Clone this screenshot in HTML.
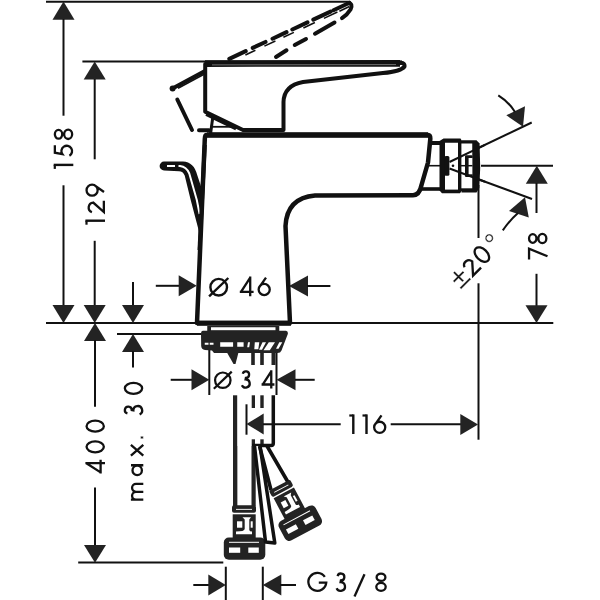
<!DOCTYPE html>
<html><head><meta charset="utf-8"><style>html,body{margin:0;padding:0;background:#fff;}svg{display:block;}</style></head>
<body><svg width="600" height="600" viewBox="0 0 600 600">
<rect width="600" height="600" fill="#fff"/>
<line x1="46" y1="1.8" x2="350" y2="1.8" stroke="#111" stroke-width="2"/>
<polygon points="63.5,1.5 52.5,19.7 74.5,19.7" fill="#232323"/>
<line x1="63.5" y1="19" x2="63.5" y2="115.7" stroke="#111" stroke-width="2"/>
<line x1="63.5" y1="185.3" x2="63.5" y2="306" stroke="#111" stroke-width="2"/>
<polygon points="63.5,323 52.5,305 74.5,305" fill="#232323"/>
<line x1="82.4" y1="61.4" x2="402" y2="61.4" stroke="#111" stroke-width="2"/>
<polygon points="94.7,61.5 83.7,79.5 105.7,79.5" fill="#232323"/>
<line x1="94.7" y1="79" x2="94.7" y2="159.3" stroke="#111" stroke-width="2"/>
<line x1="94.7" y1="240.8" x2="94.7" y2="306" stroke="#111" stroke-width="2"/>
<polygon points="94.7,323 83.7,305 105.7,305" fill="#232323"/>
<line x1="46" y1="323" x2="553.3" y2="323" stroke="#111" stroke-width="2"/>
<polygon points="95,323 84,341 106,341" fill="#232323"/>
<line x1="95" y1="340" x2="95" y2="406.7" stroke="#111" stroke-width="2"/>
<line x1="95" y1="487.5" x2="95" y2="546" stroke="#111" stroke-width="2"/>
<polygon points="95,562.8 84,545 106,545" fill="#232323"/>
<line x1="133" y1="282" x2="133" y2="306" stroke="#111" stroke-width="2"/>
<polygon points="133,323 122,305 144,305" fill="#232323"/>
<line x1="117" y1="334" x2="201" y2="334" stroke="#111" stroke-width="2"/>
<polygon points="133,334 122,352 144,352" fill="#232323"/>
<line x1="133" y1="351" x2="133" y2="367.5" stroke="#111" stroke-width="2"/>
<line x1="78.2" y1="562.5" x2="223.3" y2="562.5" stroke="#111" stroke-width="2"/>
<line x1="193.3" y1="585" x2="209" y2="585" stroke="#111" stroke-width="2"/>
<polygon points="225.8,585 208.3,574.5 208.3,595.5" fill="#232323"/>
<line x1="225.8" y1="566.7" x2="225.8" y2="600" stroke="#111" stroke-width="2"/>
<line x1="262.8" y1="566.7" x2="262.8" y2="600" stroke="#111" stroke-width="2"/>
<polygon points="262.8,585 281.3,574.5 281.3,595.5" fill="#232323"/>
<line x1="280" y1="585" x2="296" y2="585" stroke="#111" stroke-width="2"/>
<line x1="155.8" y1="285.8" x2="179.5" y2="285.8" stroke="#111" stroke-width="2"/>
<polygon points="196.7,285.8 178.7,275.3 178.7,296.3" fill="#232323"/>
<polygon points="289,286 308,275.5 308,296.5" fill="#232323"/>
<line x1="307" y1="286" x2="330.4" y2="286" stroke="#111" stroke-width="2"/>
<line x1="170.7" y1="379.8" x2="192" y2="379.8" stroke="#111" stroke-width="2"/>
<polygon points="209.3,379.8 191.5,369.3 191.5,390.3" fill="#232323"/>
<line x1="209.3" y1="345" x2="209.3" y2="395" stroke="#111" stroke-width="2"/>
<line x1="276.5" y1="348" x2="276.5" y2="395" stroke="#111" stroke-width="2"/>
<polygon points="276.5,379.8 295.5,369.3 295.5,390.3" fill="#232323"/>
<line x1="295" y1="379.8" x2="314.7" y2="379.8" stroke="#111" stroke-width="2"/>
<line x1="246.5" y1="404.3" x2="246.5" y2="434.7" stroke="#111" stroke-width="2"/>
<polygon points="246.5,424 263.7,413.5 263.7,434.5" fill="#232323"/>
<line x1="263" y1="424.2" x2="340.7" y2="424.2" stroke="#111" stroke-width="2"/>
<line x1="390.7" y1="424.2" x2="461" y2="424.2" stroke="#111" stroke-width="2"/>
<polygon points="478,424.5 460.3,414.0 460.3,435.0" fill="#232323"/>
<line x1="478.5" y1="185" x2="478.5" y2="238" stroke="#111" stroke-width="2"/>
<line x1="478.5" y1="283.3" x2="478.5" y2="439.7" stroke="#111" stroke-width="2"/>
<line x1="481" y1="165.8" x2="553" y2="165.8" stroke="#111" stroke-width="2"/>
<polygon points="536.8,165.8 525.8,183.8 547.8,183.8" fill="#232323"/>
<line x1="536.5" y1="183" x2="536.5" y2="213" stroke="#111" stroke-width="2"/>
<line x1="536.5" y1="273.8" x2="536.5" y2="306" stroke="#111" stroke-width="2"/>
<polygon points="536.5,323 525.5,305.2 547.5,305.2" fill="#232323"/>
<line x1="449" y1="162" x2="531.7" y2="122.5" stroke="#111" stroke-width="2"/>
<line x1="449" y1="168.5" x2="532" y2="199" stroke="#111" stroke-width="2"/>
<polygon points="523,126.7 506.3,115.3 525,106.3" fill="#232323"/>
<path d="M498.3,95.3 Q509,102 515,112" fill="none" stroke="#111" stroke-width="2"/>
<polygon points="525,197.3 509,211 528.8,217.4" fill="#232323"/>
<path d="M502.8,230.4 Q510,220 518,213" fill="none" stroke="#111" stroke-width="2"/>
<path d="M172.5,88.5 L204,71.5" fill="none" stroke="#111" stroke-width="4" stroke-linecap="round"/>
<path d="M178,88.2 L204,74.2" fill="none" stroke="#111" stroke-width="1.6"/>
<circle cx="172.6" cy="88.6" r="3" fill="#111"/>
<path d="M229.3,58.83L245.7,51.18M252.7,47.92L265.5,41.95M272.5,38.69L286.5,32.17M292.3,29.46L307.5,22.38M313.3,19.67L330.5,11.66M333.5,10.26L349.5,2.80" fill="none" stroke="#111" stroke-width="4" stroke-linecap="round"/>
<path d="M245.4,54.98L255.4,50.31M264.4,46.12L275.4,40.99M283.4,37.26L293.9,32.37M303.4,27.94L314.9,22.58M323.9,18.39L337.4,12.09M339.4,11.16L349.4,6.50" fill="none" stroke="#111" stroke-width="1.6"/>
<path d="M348,3 Q353.5,3.5 350.5,9.5 Q347.5,14.5 342,18.2" fill="none" stroke="#111" stroke-width="4" stroke-linecap="round"/>
<path d="M334.5,22.5 L315,33.75 M306,39 L294.75,45 M286.5,50.25 L276,57" fill="none" stroke="#111" stroke-width="4" stroke-linecap="round"/>
<path d="M177.3,99.5 L192,130 M199,130.3 L209,130.3" fill="none" stroke="#111" stroke-width="4" stroke-linecap="round"/>
<path d="M205.2,64 L401,62.8 Q405,63 404.5,66.5 Q401,71.5 383,73 L303,82 Q284,85.5 283.5,102 L283.5,130 L243,130 L205.2,111.8 Z" fill="#fff" stroke="#111" stroke-width="4" stroke-linejoin="round"/>
<path d="M205,63.6 L400,63.4" fill="none" stroke="#111" stroke-width="6.6"/>
<path d="M212,64.9 L396,64.6" fill="none" stroke="#999" stroke-width="0.7"/>
<path d="M206,135 L428,135 Q430.5,135.2 430.3,139 L428,162.5 L421.5,185 Q419.5,195.2 413,195.2 L315,195.6 Q287,198 285.5,226 L290,323 L197,323 L204.8,139 Q205,135 206,135 Z" fill="#fff" stroke="#111" stroke-width="4.5" stroke-linejoin="round"/>
<line x1="207" y1="134.9" x2="428" y2="134.9" stroke="#111" stroke-width="5.5"/>
<line x1="197" y1="323.3" x2="291" y2="323.3" stroke="#111" stroke-width="5"/>
<path d="M206,114.5 L236,128.8" fill="none" stroke="#111" stroke-width="3"/>
<path d="M212.8,117 L210.6,133.5" fill="none" stroke="#111" stroke-width="3"/>
<path d="M212.5,126.8 L231,126.8" fill="none" stroke="#111" stroke-width="1.8"/>
<line x1="429" y1="143" x2="441" y2="143" stroke="#111" stroke-width="4"/>
<line x1="421.5" y1="189" x2="441" y2="189" stroke="#111" stroke-width="3.6"/>
<line x1="426" y1="165.7" x2="441" y2="165.7" stroke="#111" stroke-width="1.6"/>
<polygon points="443.5,138.5 460.5,138.5 462,141 462,190.5 460,193.3 442,193.3 439.5,190.5 439.5,141" fill="#111"/>
<rect x="445" y="142.75" width="13" height="46.85" fill="#fff"/>
<rect x="444.3" y="156" width="5.1" height="19.8" rx="1.5" fill="#111"/>
<circle cx="453" cy="165.7" r="1.3" fill="#111"/>
<polygon points="461.5,140.25 476.5,140.25 479.6,143.5 480.2,168 479.3,188 476.5,192.5 461.5,192.5" fill="#111"/>
<rect x="461.4" y="143.5" width="10.85" height="44.8" fill="#fff"/>
<rect x="465" y="155.3" width="7.5" height="21.7" rx="1" fill="#111"/>
<rect x="468.6" y="158" width="3.7" height="16.3" fill="#fff"/>
<line x1="461" y1="165.7" x2="472.5" y2="165.7" stroke="#111" stroke-width="1.5"/>
<line x1="449.5" y1="162" x2="485" y2="144.8" stroke="#111" stroke-width="2"/>
<line x1="449.5" y1="168.5" x2="485" y2="181.7" stroke="#111" stroke-width="2"/>
<path d="M164,161.6 L183,161.4 Q194,161.8 197.3,175.3 L202.5,191 L202,233 L199.4,233 L190.7,200 L184.7,175.5 Q183,171.3 179,171.2 L164,170.4 A4.4,4.4 0 0 1 164,161.6 Z" fill="#111"/>
<path d="M167,166 L175,166 M178.5,166 L180,166 Q186.5,166.7 189.3,173.5 L196.8,200 L199.6,214" fill="none" stroke="#fff" stroke-width="2"/>
<path d="M204.8,145 L199.5,250" fill="none" stroke="#111" stroke-width="4"/>
<rect x="207.25" y="326" width="72" height="5" fill="#232323"/>
<rect x="211" y="327.25" width="64.5" height="3" fill="#fff"/>
<path d="M203,330.8 L286,330.8 Q288.3,331 287.8,334 L281.5,350.5 Q280.5,353 277.5,353 L214,353 L212,350.5 L205,350 Q201.4,349.6 201.2,346 L201,334 Q201,330.8 203,330.8 Z" fill="#232323"/>
<path d="M204.75,342.7h3.75v2.05h-3.75z M209.75,342.7h3.75v2.05h-3.75z M220.2,342.25h12.9v4.55h-12.9z M237.25,342.25h6.35v4.55h-6.35z M248,342.2h2l-0.8,5h-2z M254.8,342.2h4.5l-1,7h-4z M262.5,342.2h3.5l-4,7.5h-3z M268.8,342.2h6.2l-5.2,8h-6.3z M279.3,342.2h3l-3.8,6.5h-2.5z" fill="#fff"/>
<path d="M226.7,352 L238.6,352 L235.5,364 L233.5,364 Z" fill="#232323"/>
<rect x="251.2" y="352" width="3.6000000000000227" height="13" fill="#232323"/>
<rect x="260.2" y="352" width="3.6000000000000227" height="13" fill="#232323"/>
<rect x="271.5" y="352" width="4.0" height="13" fill="#232323"/>
<rect x="233" y="395.3" width="4.2" height="111" fill="#232323"/>
<rect x="251.7" y="395.3" width="3.3" height="12.699999999999989" fill="#232323"/>
<rect x="260.3" y="395.3" width="3.4" height="12.699999999999989" fill="#232323"/>
<rect x="251.7" y="439.3" width="3.3" height="6.699999999999989" fill="#232323"/>
<rect x="260.3" y="439.3" width="3.4" height="6.699999999999989" fill="#232323"/>
<path d="M273.3,395.3 L273.3,443.5 Q273.3,445.4 271,445.4 L252,445.4" fill="none" stroke="#111" stroke-width="3.5"/>
<rect x="233" y="446" width="4.2" height="60" fill="#232323"/><rect x="251.5" y="446" width="4.2" height="60" fill="#232323"/><rect x="232" y="505.3" width="24" height="7.5" rx="2" fill="#232323"/><rect x="236" y="508.9" width="16" height="0.9" fill="#fff"/><rect x="232.7" y="514.3" width="23" height="24" fill="#232323"/><path d="M242.5,517.3 H251 L249.3,519.5 V530 Q249.5,531.5 252,531.5 V534.3 H236 V531.5 Q244.5,531.5 244.7,529 V519.5 Z" fill="#fff"/><rect x="237" y="521.3" width="5.3" height="6.4" fill="#fff"/><rect x="250.7" y="521.3" width="2" height="6.4" fill="#fff"/><rect x="223.8" y="537.6" width="41.5" height="22.2" rx="5" fill="#232323"/><rect x="229" y="541.8" width="30" height="1" fill="#fff"/><rect x="229" y="547.5" width="11.2" height="5.3" fill="#fff"/><rect x="248.3" y="547.5" width="10.5" height="5.3" fill="#fff"/>
<path d="M254.5,446 L265.5,542 L274.8,543 L260,446" fill="#fff" stroke="#111" stroke-width="3.5" stroke-linejoin="round"/>
<path d="M259.5,446 L271,490 M267,446 L288.5,483" fill="none" stroke="#111" stroke-width="3.6"/>
<g transform="translate(300.2,523.2) rotate(-28) scale(1.0) translate(-244.5,-548.7)"><rect x="232" y="505.3" width="24" height="7.5" rx="2" fill="#232323"/><rect x="236" y="508.9" width="16" height="0.9" fill="#fff"/><rect x="232.7" y="514.3" width="23" height="24" fill="#232323"/><path d="M242.5,517.3 H251 L249.3,519.5 V530 Q249.5,531.5 252,531.5 V534.3 H236 V531.5 Q244.5,531.5 244.7,529 V519.5 Z" fill="#fff"/><rect x="237" y="521.3" width="5.3" height="6.4" fill="#fff"/><rect x="250.7" y="521.3" width="2" height="6.4" fill="#fff"/><rect x="223.8" y="537.6" width="41.5" height="22.2" rx="5" fill="#232323"/><rect x="229" y="541.8" width="30" height="1" fill="#fff"/><rect x="229" y="547.5" width="11.2" height="5.3" fill="#fff"/><rect x="248.3" y="547.5" width="10.5" height="5.3" fill="#fff"/></g>
<g fill="#111">
<g transform="translate(0,0) rotate(-90)"><rect x="-166.10" y="53.70" width="2.40" height="19.60"/><rect x="-168.90" y="53.70" width="4.00" height="2.20"/><path transform="translate(-157.70,73.30) scale(1.0000)" d="M12.40,-18.45 L5.0,-18.45 L3.53,-10.93 A5.35,5.35 0 1 1 1.97,-3.88" fill="none" stroke="#111" stroke-width="2.30"/><path transform="translate(-140.20,73.30) scale(1.0000)" d="M10.60,-5.15 A4.7,4.0 0 1 0 1.20,-5.15 A4.7,4.0 0 1 0 10.60,-5.15 Z M10.30,-14.75 A4.4,3.7 0 1 0 1.50,-14.75 A4.4,3.7 0 1 0 10.30,-14.75 Z" fill="none" stroke="#111" stroke-width="2.30"/></g>
<g transform="translate(0,0) rotate(-90)"><rect x="-221.90" y="85.40" width="2.40" height="19.60"/><rect x="-224.70" y="85.40" width="4.00" height="2.20"/><path transform="translate(-213.30,105.00) scale(1.0000)" d="M1.17,-13.07 A4.95,4.95 0 0 1 10.75,-11.81 L1.3,-1.15 L12.6,-1.15" fill="none" stroke="#111" stroke-width="2.30"/><path transform="translate(-196.65,105.00) scale(1.0000)" d="M12.05,-12.900000000000002 A5.55,5.55 0 1 0 0.95,-12.900000000000002 A5.55,5.55 0 1 0 12.05,-12.900000000000002 Z M11.72,-11.00 L4.70,-1.0" fill="none" stroke="#111" stroke-width="2.30"/></g>
<g transform="translate(0,0) rotate(-90)"><path transform="translate(-473.60,105.00) scale(1.0000)" d="M10.40,0 V-19.6 M10.40,-18.6 L1.2,-4.4 M0,-4.4 H13.80" fill="none" stroke="#111" stroke-width="2.30"/><path transform="translate(-453.45,105.00) scale(1.0000)" d="M12.15,-9.8 A5.5,8.65 0 1 0 1.15,-9.8 A5.5,8.65 0 1 0 12.15,-9.8 Z" fill="none" stroke="#111" stroke-width="2.30"/><path transform="translate(-432.85,105.00) scale(1.0000)" d="M12.15,-9.8 A5.5,8.65 0 1 0 1.15,-9.8 A5.5,8.65 0 1 0 12.15,-9.8 Z" fill="none" stroke="#111" stroke-width="2.30"/></g>
<g transform="translate(0,0) rotate(-90)"><path transform="translate(-500.80,143.30) scale(1.0000)" d="M1.15,0 V-12.4 M1.15,-7.3 A3.92,3.92 0 0 1 9.0,-7.3 V0 M9.0,-7.3 A3.92,3.92 0 0 1 16.85,-7.3 V0" fill="none" stroke="#111" stroke-width="2.30"/><path transform="translate(-475.90,143.30) scale(1.0000)" d="M10.20,-6.1 A4.7,4.7 0 1 0 0.80,-6.1 A4.7,4.7 0 1 0 10.20,-6.1 Z M10.65,-12.3 V0" fill="none" stroke="#111" stroke-width="2.30"/><path transform="translate(-456.50,143.30) scale(1.0000)" d="M0.8,0 L11.60,-12.4 M0.8,-12.4 L11.60,0" fill="none" stroke="#111" stroke-width="2.30"/><path transform="translate(-441.04,143.30) scale(0.01245,-0.01245)" d="M187 0V219H382V0Z" stroke="#fff" stroke-width="36.1"/><path transform="translate(-416.00,143.30) scale(1.0000)" d="M2.57,-15.89 A3.45,3.45 0 1 1 5.90,-11.55 L5.60,-9.95 A4.4,4.4 0 1 1 1.61,-3.69" fill="none" stroke="#111" stroke-width="2.30"/><path transform="translate(-394.95,143.30) scale(1.0000)" d="M12.15,-9.8 A5.5,8.65 0 1 0 1.15,-9.8 A5.5,8.65 0 1 0 12.15,-9.8 Z" fill="none" stroke="#111" stroke-width="2.30"/></g>
<g transform="translate(0,0) rotate(-90)"><path transform="translate(-259.70,547.50) scale(1.0000)" d="M0.3,-18.45 L11.00,-18.45 L3.4,0" fill="none" stroke="#111" stroke-width="2.30"/><path transform="translate(-244.40,547.50) scale(1.0000)" d="M10.60,-5.15 A4.7,4.0 0 1 0 1.20,-5.15 A4.7,4.0 0 1 0 10.60,-5.15 Z M10.30,-14.75 A4.4,3.7 0 1 0 1.50,-14.75 A4.4,3.7 0 1 0 10.30,-14.75 Z" fill="none" stroke="#111" stroke-width="2.30"/></g>
<circle cx="218.70" cy="287.20" r="8.30" fill="none" stroke="#111" stroke-width="2.40"/><path d="M209.10,296.40 L228.30,278.00" stroke="#111" stroke-width="2.40"/>
<path transform="translate(239.80,296.20) scale(1.0000)" d="M10.40,0 V-19.6 M10.40,-18.6 L1.2,-4.4 M0,-4.4 H13.80" fill="none" stroke="#111" stroke-width="2.30"/>
<path transform="translate(257.40,296.20) scale(1.0000)" d="M12.35,-6.7 A5.55,5.55 0 1 0 1.25,-6.7 A5.55,5.55 0 1 0 12.35,-6.7 Z M1.58,-8.60 L8.6,-18.6" fill="none" stroke="#111" stroke-width="2.30"/>
<circle cx="222.80" cy="380.22" r="7.73" fill="none" stroke="#111" stroke-width="2.23"/><path d="M213.86,388.79 L231.74,371.66" stroke="#111" stroke-width="2.23"/>
<path transform="translate(240.41,388.60) scale(0.9310)" d="M2.57,-15.89 A3.45,3.45 0 1 1 5.90,-11.55 L5.60,-9.95 A4.4,4.4 0 1 1 1.61,-3.69" fill="none" stroke="#111" stroke-width="2.47"/>
<path transform="translate(261.58,388.60) scale(0.9310)" d="M10.40,0 V-19.6 M10.40,-18.6 L1.2,-4.4 M0,-4.4 H13.80" fill="none" stroke="#111" stroke-width="2.47"/>
<rect x="352.10" y="414.40" width="2.40" height="19.60"/><rect x="349.30" y="414.40" width="4.00" height="2.20"/>
<rect x="365.30" y="414.40" width="2.40" height="19.60"/><rect x="362.50" y="414.40" width="4.00" height="2.20"/>
<path transform="translate(372.90,434.00) scale(1.0000)" d="M12.35,-6.7 A5.55,5.55 0 1 0 1.25,-6.7 A5.55,5.55 0 1 0 12.35,-6.7 Z M1.58,-8.60 L8.6,-18.6" fill="none" stroke="#111" stroke-width="2.30"/>
<path transform="translate(307.45,592.00) scale(1.0000)" d="M17.36,-15.07 A8.95,8.95 0 1 0 18.80,-9.40 H11.35" fill="none" stroke="#111" stroke-width="2.30"/>
<path transform="translate(335.00,592.00) scale(1.0000)" d="M2.57,-15.89 A3.45,3.45 0 1 1 5.90,-11.55 L5.60,-9.95 A4.4,4.4 0 1 1 1.61,-3.69" fill="none" stroke="#111" stroke-width="2.30"/>
<path d="M354.50,596.50 L364.50,574.20" stroke="#111" stroke-width="2.3"/>
<path transform="translate(375.10,592.00) scale(1.0000)" d="M10.60,-5.15 A4.7,4.0 0 1 0 1.20,-5.15 A4.7,4.0 0 1 0 10.60,-5.15 Z M10.30,-14.75 A4.4,3.7 0 1 0 1.50,-14.75 A4.4,3.7 0 1 0 10.30,-14.75 Z" fill="none" stroke="#111" stroke-width="2.30"/>
<g transform="translate(466.1,284.2) rotate(-45)"><path transform="translate(-7.97,0.00) scale(0.01416,-0.01416)" d="M636 680V285H489V680H65V825H489V1219H636V825H1060V680ZM65 0V145H1060V0Z" stroke="#fff" stroke-width="31.8"/><path transform="translate(9.70,0.00) scale(1.0000)" d="M1.17,-13.07 A4.95,4.95 0 0 1 10.75,-11.81 L1.3,-1.15 L12.6,-1.15" fill="none" stroke="#111" stroke-width="2.30"/><path transform="translate(25.45,0.00) scale(1.0000)" d="M12.15,-9.8 A5.5,8.65 0 1 0 1.15,-9.8 A5.5,8.65 0 1 0 12.15,-9.8 Z" fill="none" stroke="#111" stroke-width="2.30"/><path transform="translate(43.11,0.00) scale(0.01416,-0.01416)" d="M696 1145Q696 1026 611.5 943.0Q527 860 409 860Q291 860 206.5 944.0Q122 1028 122 1145Q122 1262 205.5 1346.0Q289 1430 409 1430Q529 1430 612.5 1347.0Q696 1264 696 1145ZM587 1145Q587 1221 535.5 1273.0Q484 1325 409 1325Q334 1325 282.5 1272.0Q231 1219 231 1145Q231 1071 283.5 1018.0Q336 965 409 965Q483 965 535.0 1017.5Q587 1070 587 1145Z" stroke="#fff" stroke-width="31.8"/></g>
</g>
</svg></body></html>
